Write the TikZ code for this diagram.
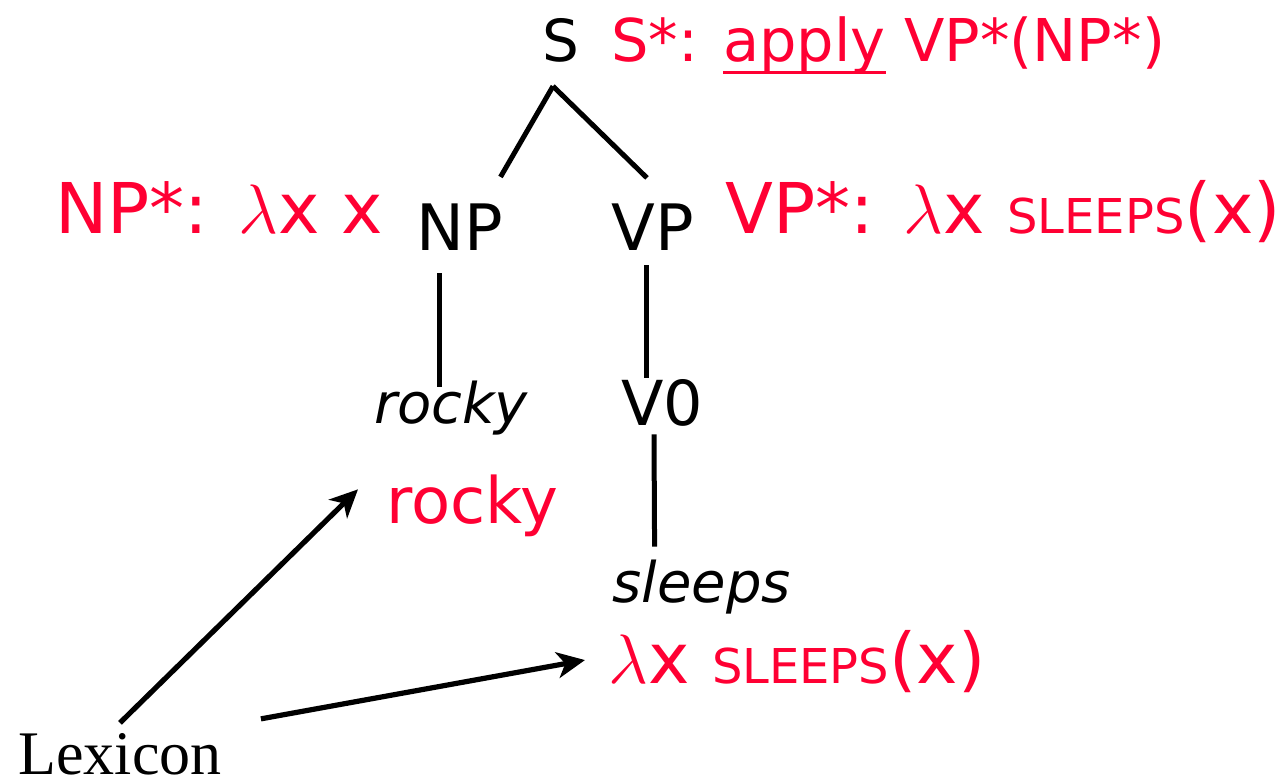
\RequirePackage{fix-cm}
\documentclass[tikz,border=0pt]{standalone}
\usepackage{fontspec}
\setmainfont{DejaVu Sans}
\newfontfamily\lexfont{Liberation Serif}
\usetikzlibrary{arrows.meta}
\definecolor{semred}{HTML}{FF0033}
\newcommand{\lam}{$\lambda$}
\newcommand{\smcap}[1]{{\fontsize{24}{24}\selectfont #1}}
\newcommand{\redline}[1]{\setbox0\hbox{#1}\rlap{\rule[-0.2em]{\wd0}{0.055em}}\box0\relax}

\begin{document}
\begin{tikzpicture}[
    x=0.5pt, y=-0.5pt,
    txt/.style={inner sep=0pt, anchor=base},
    cat/.style={txt, font=\fontsize{32}{32}\selectfont},
    word/.style={txt, font=\fontsize{28}{28}\selectfont\itshape},
    sem/.style={txt, anchor=base west, text=semred, font=\fontsize{35}{35}\selectfont},
    branch/.style={draw=black, line width=2.5pt},
    lexarrow/.style={draw=black, line width=2.6pt, -{Stealth[length=14pt, width=13pt, inset=4pt]}}
]
\useasboundingbox (0,0) rectangle (1279,781);

% tree
\node[cat, font=\fontsize{29}{29}\selectfont] (S) at (561,62) {S};
\node[cat] (NP) at (459.5,250) {NP};
\node[cat] (VP) at (652.5,250) {VP};
\node[word] (rockyword) at (451,423) {rocky};
\node[cat, font=\fontsize{31}{31}\selectfont] (V0) at (662,425) {V0};
\node[word, anchor=base west] (sleepsword) at (612,602) {sleeps};

\draw[branch] ([shift={(-8,23)}]S.south) -- ([shift={(41,-26)}]NP.north);
\draw[branch] ([shift={(-8,23)}]S.south) -- ([shift={(-5.5,-25)}]VP.north);
\draw[branch] ([shift={(-20.5,23)}]NP.south) -- ([shift={(-12,6.6)}]rockyword.north);
\draw[branch] ([shift={(-6.5,15)}]VP.south) -- ([shift={(-16,-1)}]V0.north);
\draw[branch] ([shift={(-8,8)}]V0.south) -- ([shift={(-47,-12.4)}]sleepsword.north);

% semantics
\node[sem, font=\fontsize{29.5}{29.5}\selectfont] (Ssem) at (611,62) {S*: \redline{apply} VP*(NP*)};
\node[sem] (NPsem) at (55,233) {NP*: \lam x x};
\node[sem] (VPsem) at (725,233) {VP*: \lam x \smcap{SLEEPS}(x)};
\node[sem, font=\fontsize{32}{32}\selectfont] (rockysem) at (386,523) {rocky};
\node[sem] (sleepssem) at (608,683) {\lam x \smcap{SLEEPS}(x)};

% lexicon
\node[txt, anchor=base west, font=\fontsize{31}{31}\lexfont] (lexicon) at (18,774) {Lexicon};
\draw[lexarrow] ([shift={(0,-9.7)}]lexicon.north) -- ([shift={(-28,-16)}]rockysem.west);
\draw[lexarrow] ([shift={(39,-13.7)}]lexicon.north east) -- ([shift={(-23,-1)}]sleepssem.west);
\end{tikzpicture}
\end{document}
